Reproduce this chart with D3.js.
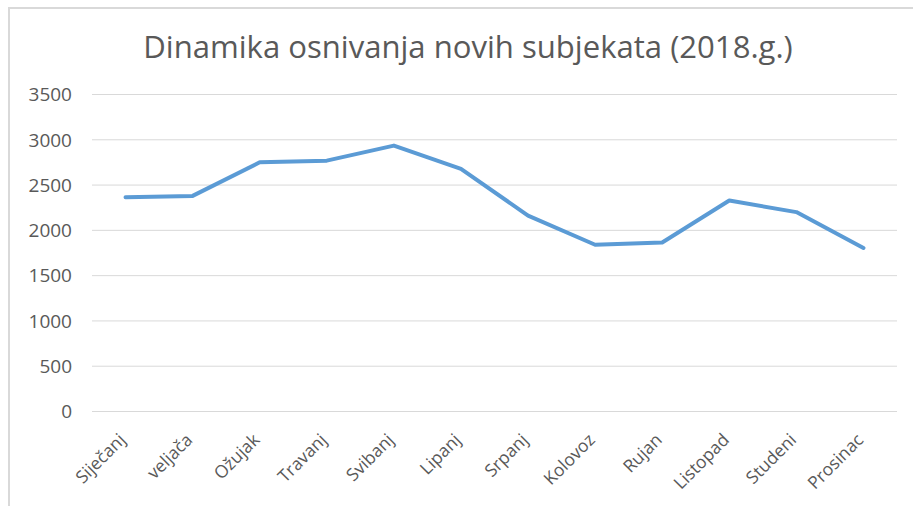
<!DOCTYPE html>
<html>
<head>
<meta charset="utf-8">
<script src="https://cdn.jsdelivr.net/npm/d3@7"></script>
<style>
  body { margin: 0; background: #fff; }
  svg { display: block; }
  .axis-y .domain, .axis-x .domain { display: none; }
  .axis-y .tick line { stroke: #d9d9d9; }
  .axis text { fill: #595959; font-family: "Open Sans", sans-serif; }
</style>
</head>
<body>
<div id="chart"></div>
<script>
// data
const months = ['Siječanj', 'veljača', 'Ožujak', 'Travanj', 'Svibanj', 'Lipanj',
                'Srpanj', 'Kolovoz', 'Rujan', 'Listopad', 'Studeni', 'Prosinac'];
const counts = [2361, 2375, 2746, 2764, 2930, 2673, 2158, 1836, 1861, 2324, 2196, 1800];
const yTicks = [0, 500, 1000, 1500, 2000, 2500, 3000, 3500];
const title = 'Dinamika osnivanja novih subjekata (2018.g.)';

const width = 913, height = 506;
const margin = { t: 94, r: 16, b: 95, l: 92 };
const w = width - margin.l - margin.r;
const h = height - margin.t - margin.b;

const svg = d3.select('#chart').append('svg')
    .attr('width', width)
    .attr('height', height);

// frame (top and left edge of the chart box)
svg.append('line')
    .attr('x1', 8).attr('x2', width).attr('y1', 8).attr('y2', 8)
    .attr('stroke', '#d9d9d9').attr('stroke-width', 2);
svg.append('line')
    .attr('x1', 9).attr('x2', 9).attr('y1', 8).attr('y2', height)
    .attr('stroke', '#d9d9d9').attr('stroke-width', 2);

// title, stretched to the width it has in the picture
const titleNode = svg.append('text')
    .attr('x', 468)
    .attr('y', 58)
    .attr('text-anchor', 'middle')
    .attr('fill', '#595959')
    .style('font-family', '"Open Sans", sans-serif')
    .style('font-size', '24px')
    .text(title);
const tw = titleNode.node().getComputedTextLength();
titleNode.style('font-size', (24 * 650 / tw) + 'px');

const plot = svg.append('g')
    .attr('transform', `translate(${margin.l},${margin.t})`);

const scaleX = d3.scaleBand()
    .domain(months)
    .range([0, w]);

const scaleY = d3.scaleLinear()
    .domain([0, 3500])
    .range([h, 0]);

const axisY = d3.axisLeft(scaleY)
    .tickValues(yTicks)
    .tickFormat(d3.format('d'))
    .tickSize(-w)
    .tickPadding(20);

plot.append('g')
    .attr('class', 'axis axis-y')
    .call(axisY)
    .selectAll('text')
    .attr('dy', '0.36em')
    .style('font-size', '19px');

const axisX = d3.axisBottom(scaleX).tickSize(0);
plot.append('g')
    .attr('class', 'axis axis-x')
    .attr('transform', `translate(0,${h})`)
    .call(axisX)
    .selectAll('text')
    .attr('y', 0)
    .attr('dy', 0)
    .attr('transform', 'translate(1,30) rotate(-45)')
    .style('text-anchor', 'end')
    .style('font-size', '17.5px');

const line = d3.line()
    .x((d, i) => scaleX(months[i]) + scaleX.bandwidth() / 2)
    .y(d => scaleY(d));

plot.append('path')
    .datum(counts)
    .attr('d', line)
    .attr('fill', 'none')
    .attr('stroke', '#5b9bd5')
    .attr('stroke-width', 4)
    .attr('stroke-linejoin', 'round')
    .attr('stroke-linecap', 'round');
</script>
</body>
</html>
